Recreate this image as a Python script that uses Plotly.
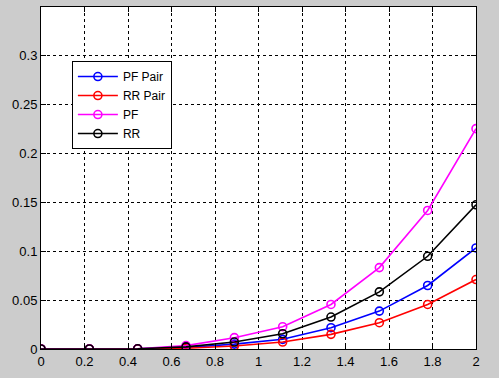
import plotly.graph_objects as go

x = [0, 0.2222, 0.4444, 0.6667, 0.8889, 1.1111, 1.3333, 1.5556, 1.7778, 2.0]
pf_pair = [0, 0, 0.0002, 0.0015, 0.0050, 0.0099, 0.0218, 0.0388, 0.0650, 0.1034]
rr_pair = [0, 0, 0.0001, 0.0008, 0.0030, 0.0071, 0.0150, 0.0269, 0.0456, 0.0711]
pf = [0, 0, 0.0003, 0.0035, 0.0116, 0.0228, 0.0456, 0.0833, 0.1418, 0.2255]
rr = [0, 0, 0.0002, 0.0022, 0.0071, 0.0156, 0.0327, 0.0585, 0.0949, 0.1476]

x_ticks = [0, 0.2, 0.4, 0.6, 0.8, 1, 1.2, 1.4, 1.6, 1.8, 2]
x_labels = ["0", "0.2", "0.4", "0.6", "0.8", "1", "1.2", "1.4", "1.6", "1.8", "2"]
y_ticks = [0, 0.05, 0.1, 0.15, 0.2, 0.25, 0.3]
y_labels = ["0", "0.05", "0.1", "0.15", "0.2", "0.25", "0.3"]

series = [("PF Pair", pf_pair, "#0000ff"), ("RR Pair", rr_pair, "#ff0000"),
          ("PF", pf, "#ff00ff"), ("RR", rr, "#000000")]

fig = go.Figure()
for name, ys, col in series:
    fig.add_trace(go.Scatter(
        x=x, y=ys, name=name, mode="lines+markers",
        line=dict(color=col, width=1.6),
        marker=dict(symbol="circle-open", size=8, color=col, line=dict(width=1.6, color=col)),
    ))

axis_common = dict(
    showline=True, linecolor="black", linewidth=1, mirror="ticks",
    showgrid=True, gridcolor="black", griddash="3px,3px", gridwidth=1,
    ticks="inside", ticklen=5, tickcolor="black", zeroline=False,
    tickfont=dict(family="Liberation Sans, Arial, sans-serif", size=13, color="black"),
)
fig.update_xaxes(range=[0, 2], tickvals=x_ticks, ticktext=x_labels, **axis_common)
fig.update_yaxes(range=[0, 0.35], tickvals=y_ticks, ticktext=y_labels, **axis_common)

fig.update_layout(
    width=499, height=378,
    margin=dict(l=41, r=23, t=7, b=29),
    paper_bgcolor="#cccccc", plot_bgcolor="white",
    showlegend=True,
    legend=dict(x=0.071, y=0.842, xanchor="left", yanchor="top",
                bgcolor="white", bordercolor="black", borderwidth=1,
                font=dict(family="Liberation Sans, Arial, sans-serif", size=12, color="black"),
                tracegroupgap=0, itemwidth=40),
)

fig.write_html("out.html", config={"displayModeBar": False},
               post_script="document.body.style.margin='0';document.body.style.background='#cccccc';")
